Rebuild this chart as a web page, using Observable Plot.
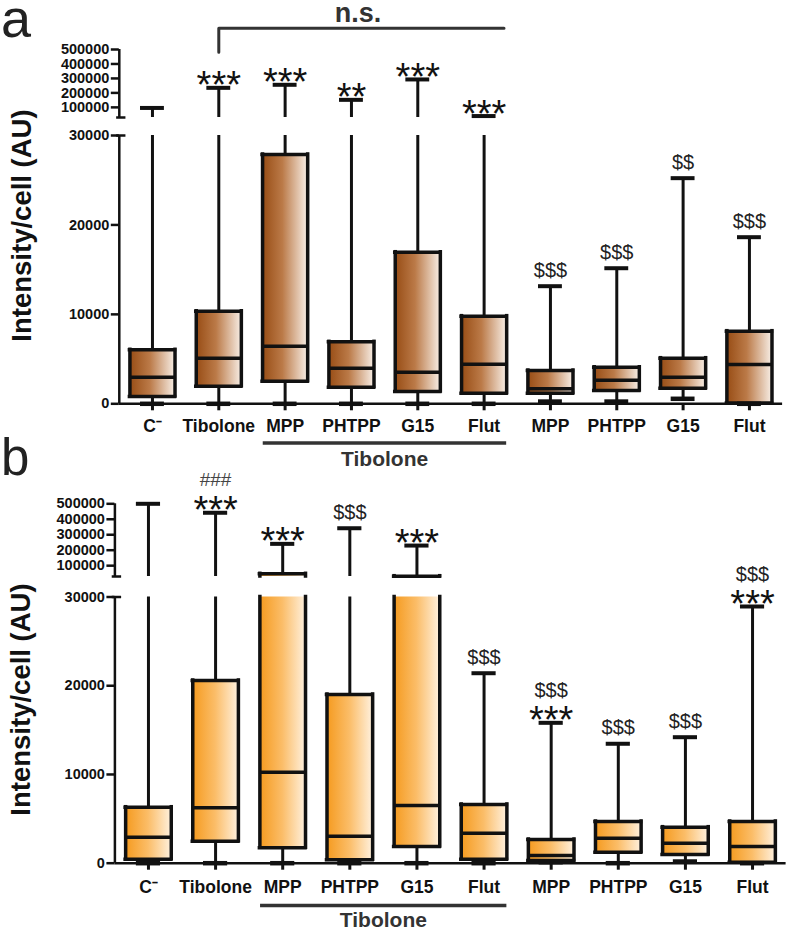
<!DOCTYPE html>
<html>
<head>
<meta charset="utf-8">
<script src="https://cdn.jsdelivr.net/npm/d3@7"></script>
<script src="https://cdn.jsdelivr.net/npm/@observablehq/plot@0.6"></script>
<style>
  html, body { margin: 0; padding: 0; background: #fff; }
  body { width: 787px; height: 931px; position: relative; overflow: hidden; font-family: "Liberation Sans", Arial, sans-serif; }
  .panel { position: absolute; left: 0; }
  .letter { position: absolute; line-height: 0.62; color: #222; font-family: "Liberation Sans", Arial, sans-serif; }
  svg g[aria-label="x-axis tick label"] text, svg g[aria-label="y-axis tick label"] text { font-weight: bold; }
</style>
</head>
<body>
<div id="panelA" class="panel" style="top:0px"></div>
<div id="panelB" class="panel" style="top:466px"></div>
<div class="letter" style="left:1px; top:2px; font-size:54px;">a</div>
<div class="letter" style="left:1px; top:442px; font-size:51px;">b</div>
<script>
// ---------- data ----------
const X_LABELS = ["C\u207B", "Tibolone", "MPP", "PHTPP", "G15", "Flut", "MPP", "PHTPP", "G15", "Flut"];
const GROUP_LABEL = "Tibolone";
const GROUP_FIRST = 2, GROUP_LAST = 5;
const AXIS_TITLE = "Intensity/cell (AU)";
const Y_TICKS = [0, 10000, 20000, 30000, 100000, 200000, 300000, 400000, 500000];
const BREAK_VALUE = 30000;
const TOP_VALUE = 500000;
const NS_LABEL = "n.s.";

// panel a (brown)
const aMin = [0, 0, 0, 0, 0, 0, 250, 250, 560, 0];
const aQ1  = [820, 1970, 2530, 1860, 1380, 1190, 1190, 1490, 1740, 80];
const aMed = [2970, 5100, 6440, 3980, 3530, 4430, 1680, 2640, 2970, 4390];
const aQ3  = [6040, 10350, 27880, 6930, 16950, 9800, 3720, 4090, 5100, 8120];
const aMax = [96000, 235000, 256000, 152000, 293000, 40000, 13150, 15160, 25230, 18630];
const aStars   = ["", "***", "***", "**", "***", "***", "", "", "", ""];
const aDollars = ["", "", "", "", "", "", "$$$", "$$$", "$$", "$$$"];
const aHashes  = ["", "", "", "", "", "", "", "", "", ""];

// panel b (orange)
const bMin = [0, 0, 0, 0, 0, 0, 110, 0, 190, 0];
const bQ1  = [450, 2480, 1740, 380, 1880, 450, 300, 1240, 980, 110];
const bMed = [2930, 6240, 10260, 3040, 6500, 3380, 870, 2820, 2250, 1880];
const bQ3  = [6310, 20590, 47500, 19010, 32000, 6620, 2670, 4700, 4060, 4700];
const bMax = [500000, 442000, 241000, 342000, 230000, 21410, 15820, 13460, 14200, 28930];
const bStars   = ["", "***", "***", "", "***", "", "***", "", "", "***"];
const bDollars = ["", "", "", "$$$", "", "$$$", "$$$", "$$$", "$$$", "$$$"];
const bHashes  = ["", "###", "", "", "", "", "", "", "", ""];

// ---------- drawing ----------
const INK = "#111";
const GREY = "#333";

function drawPanel(data, g) {
  const n = X_LABELS.length;
  const idx = d3.range(n);
  const t = v => v <= BREAK_VALUE
    ? v / BREAK_VALUE * g.lowerH
    : g.lowerH + g.gap + (v - BREAK_VALUE) / (TOP_VALUE - BREAK_VALUE) * g.upperH;
  const upStart = g.lowerH + g.gap;
  const yMax = t(TOP_VALUE);
  const HB = 0.34, HC = 0.18;

  const fills = [], hEdges = [], vEdges = [], whiskers = [];
  for (const i of idx) {
    const lo = data.q1[i], hi = data.q3[i];
    const segs = hi <= BREAK_VALUE ? [[t(lo), t(hi)]] : [[t(lo), g.lowerH], [upStart, t(hi)]];
    for (const [s1, s2] of segs) {
      fills.push({i, y1: s1, y2: s2});
      vEdges.push({x: i - HB, y1: s1, y2: s2}, {x: i + HB, y1: s1, y2: s2});
    }
    hEdges.push({i, y: t(lo)}, {i, y: t(hi)});
    whiskers.push({i, y1: t(data.min[i]), y2: t(lo)});
    const w = data.max[i];
    if (hi < BREAK_VALUE && w > BREAK_VALUE) {
      whiskers.push({i, y1: t(hi), y2: g.lowerH}, {i, y1: upStart, y2: t(w)});
    } else {
      whiskers.push({i, y1: t(hi), y2: t(w)});
    }
  }

  const notes = [];
  for (const i of idx) {
    const cap = t(data.max[i]);
    if (data.stars[i]) notes.push({i, y: cap + 1.6, text: data.stars[i], kind: "star"});
    if (data.dollars[i]) notes.push({i, y: cap + (data.stars[i] ? 32 : 16), text: data.dollars[i], kind: "dollar"});
    if (data.hashes[i]) notes.push({i, y: cap + 33, text: data.hashes[i], kind: "hash"});
  }

  const yLabel = new Map(Y_TICKS.map(v => [t(v), String(v)]));

  const marks = [
    Plot.ruleX(whiskers, {x: "i", y1: "y1", y2: "y2", stroke: INK, strokeWidth: 3}),
    Plot.rect(fills, {x1: d => d.i - HB, x2: d => d.i + HB, y1: "y1", y2: "y2", fill: `url(#${g.gradId})`}),
    Plot.ruleX(vEdges, {x: "x", y1: "y1", y2: "y2", stroke: INK, strokeWidth: 3.5, strokeLinecap: "square"}),
    Plot.ruleY(hEdges, {x1: d => d.i - HB, x2: d => d.i + HB, y: "y", stroke: INK, strokeWidth: 3.5, strokeLinecap: "square"}),
    Plot.ruleY(idx, {x1: i => i - HB, x2: i => i + HB, y: i => t(data.med[i]), stroke: INK, strokeWidth: 3.5}),
    Plot.ruleY(idx, {x1: i => i - HC, x2: i => i + HC, y: i => t(data.max[i]), stroke: INK, strokeWidth: 4}),
    Plot.ruleY(idx, {x1: i => i - HC, x2: i => i + HC, y: i => t(data.min[i]), stroke: INK, strokeWidth: 4.5}),
    Plot.ruleY([0], {stroke: INK, strokeWidth: 2.5}),
    Plot.ruleX([[0, g.lowerH], [upStart, yMax]], {x: -0.5, y1: d => d[0], y2: d => d[1], stroke: INK, strokeWidth: 2.5}),
    Plot.ruleY([g.lowerH, upStart], {x1: -0.5 - 0.04, x2: -0.5 + 0.1, y: d => d, stroke: INK, strokeWidth: 2.5}),
    Plot.axisX({ticks: idx, tickFormat: i => X_LABELS[i], tickSize: 7, tickPadding: g.tickPad,
      fontSize: 17.5, fontWeight: "bold", stroke: INK, strokeWidth: 3, label: null, fill: INK}),
    Plot.axisY({ticks: Y_TICKS.map(t), tickFormat: d => yLabel.get(d), tickSize: 8, tickPadding: 2,
      fontSize: 14.5, fontWeight: "bold", stroke: INK, strokeWidth: 2.5, label: null, fill: INK}),
    Plot.text([AXIS_TITLE], {x: g.titleX, y: g.titleY, text: d => d, rotate: -90, fontSize: 27.5,
      fontWeight: "bold", fill: INK}),
    Plot.text(notes.filter(d => d.kind === "star"), {x: "i", y: "y", text: "text", fontSize: 38, fill: INK}),
    Plot.text(notes.filter(d => d.kind === "dollar"), {x: "i", y: "y", text: "text", fontSize: 20, fill: "#222"}),
    Plot.text(notes.filter(d => d.kind === "hash"), {x: "i", y: "y", text: "text", fontSize: 19, fill: "#444"}),
    Plot.ruleY([g.underY], {x1: GROUP_FIRST - 0.33, x2: GROUP_LAST + 0.34, y: d => d, stroke: GREY, strokeWidth: 3.5}),
    Plot.text([GROUP_LABEL], {x: (GROUP_FIRST + GROUP_LAST) / 2, y: g.groupY, text: d => d, fontSize: 21,
      fontWeight: "bold", fill: GREY})
  ];

  if (g.ns) {
    marks.push(
      Plot.line([[1, g.ns.low], [1, g.ns.top], [g.ns.right, g.ns.top]], {x: d => d[0], y: d => d[1], stroke: GREY, strokeWidth: 3}),
      Plot.text([NS_LABEL], {x: g.ns.textX, y: g.ns.textY, text: d => d, fontSize: 27, fontWeight: "bold", fill: GREY})
    );
  }

  const svg = Plot.plot({
    width: 787,
    height: g.height,
    marginTop: g.marginTop,
    marginBottom: g.marginBottom,
    marginLeft: g.marginLeft,
    marginRight: g.marginRight,
    x: {type: "linear", domain: [-0.5, n - 0.5]},
    y: {type: "linear", domain: [0, yMax]},
    style: {fontFamily: "'Liberation Sans', Arial, sans-serif", color: INK, background: "white", overflow: "visible"},
    marks
  });

  const defs = d3.select(svg).insert("defs", ":first-child");
  const lg = defs.append("linearGradient").attr("id", g.gradId)
    .attr("x1", "0").attr("x2", "1").attr("y1", "0").attr("y2", "0");
  g.stops.forEach(([o, c]) => lg.append("stop").attr("offset", o).attr("stop-color", c));
  return svg;
}

const geomA = {
  height: 466, marginTop: 49, marginBottom: 62.7, marginLeft: 118.8, marginRight: 4.9,
  lowerH: 268.3, gap: 18, upperH: 68,
  titleX: -1.97, titleY: 178.3, underY: -39.2, groupY: -55.7, tickPad: 8.7,
  gradId: "gradA", stops: [[0, "#974c14"], [0.45, "#bb7a48"], [1, "#f7ede4"]],
  ns: {low: 351.6, top: 375.6, right: 5.3, textX: 3.1, textY: 390}
};
const geomB = {
  height: 465, marginTop: 37.3, marginBottom: 68.3, marginLeft: 114.4, marginRight: 1.4,
  lowerH: 266.2, gap: 20.5, upperH: 72.7,
  titleX: -1.89, titleY: 163.7, underY: -42.3, groupY: -57.3, tickPad: 10.3,
  gradId: "gradB", stops: [[0, "#f59a1e"], [0.5, "#fbbd68"], [1, "#fff0dc"]],
  ns: null
};

document.getElementById("panelA").appendChild(drawPanel(
  {min: aMin, q1: aQ1, med: aMed, q3: aQ3, max: aMax, stars: aStars, dollars: aDollars, hashes: aHashes}, geomA));
document.getElementById("panelB").appendChild(drawPanel(
  {min: bMin, q1: bQ1, med: bMed, q3: bQ3, max: bMax, stars: bStars, dollars: bDollars, hashes: bHashes}, geomB));
</script>
</body>
</html>
